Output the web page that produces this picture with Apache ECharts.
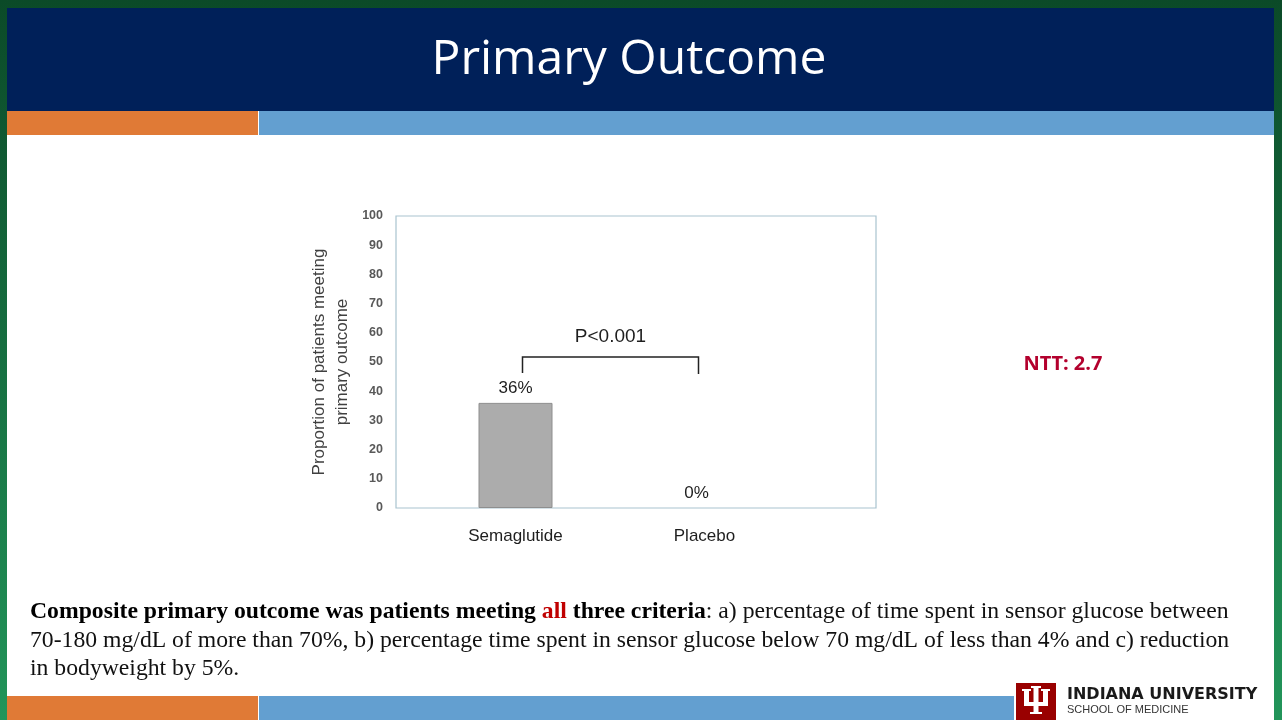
<!DOCTYPE html>
<html>
<head>
<meta charset="utf-8">
<script src="https://cdn.jsdelivr.net/npm/echarts@6/dist/echarts.min.js"></script>
<style>
  html, body { margin: 0; padding: 0; background: #0d5a32; }
  #slide { width: 1282px; height: 720px; }
</style>
</head>
<body>
<div id="slide"></div>
<script>
// data
const categories = ["Semaglutide", "Placebo"]
const values = [36, 0]
const yTicks = [0, 10, 20, 30, 40, 50, 60, 70, 80, 90, 100]
const bracket = [[0, 1, 51.7, 46.2]]   // from cat, to cat, top value, foot value
const pValue = "P<0.001"
const nttText = "NTT: 2.7"

const slideChart = echarts.init(document.getElementById("slide"))

const textFont = "Liberation Sans"
const serif = "Liberation Serif"

let option = {
    animation: false,
    backgroundColor: {
        type: "linear", x: 0, y: 0, x2: 0, y2: 1,
        colorStops: [{ offset: 0, color: "#0b4a28" }, { offset: 1, color: "#22955a" }]
    },
    grid: [
        // frame grid (y axis + border)
        { left: 396, right: 406, top: 216, bottom: 212, show: true, borderColor: "#a9c3cf", borderWidth: 1.2, backgroundColor: "transparent" },
        // bar grid
        { left: 421, right: 483, top: 216, bottom: 212 }
    ],
    xAxis: [
        { gridIndex: 0, type: "value", min: 0, max: 1, show: false },
        {
            gridIndex: 1,
            type: "category",
            data: categories,
            axisLine: { show: false },
            axisTick: { show: false },
            axisLabel: { margin: 20, fontSize: 17, color: "#1e1e1e", fontFamily: textFont }
        }
    ],
    yAxis: [
        {
            gridIndex: 0,
            type: "value",
            min: 0,
            max: 100,
            interval: 10,
            axisLine: { show: false },
            axisTick: { show: false },
            splitLine: { show: false },
            axisLabel: {
                margin: 13, fontSize: 12.5, fontWeight: "bold", color: "#595959", fontFamily: textFont,
                formatter: (v) => yTicks.includes(v) ? String(v) : ""
            },
            name: "Proportion of patients meeting\nprimary outcome",
            nameLocation: "middle",
            nameRotate: 90,
            nameGap: 42,
            nameTextStyle: { fontSize: 17, color: "#404040", fontFamily: textFont, lineHeight: 23 }
        },
        { gridIndex: 1, type: "value", min: 0, max: 100, show: false }
    ],
    series: [
        {
            type: "bar",
            xAxisIndex: 1,
            yAxisIndex: 1,
            data: values.map((v, i) => i === 1 ? { value: v, itemStyle: { borderWidth: 0 }, label: { offset: [-8, 0] } } : v),
            barWidth: 74,
            itemStyle: { color: "#acacac", borderColor: "#8e8e8e", borderWidth: 1 },
            label: {
                show: true,
                position: "top",
                distance: 6,
                formatter: "{c}%",
                fontSize: 17,
                color: "#1e1e1e",
                fontFamily: textFont
            }
        },
        {
            type: "custom",
            xAxisIndex: 1,
            yAxisIndex: 1,
            data: bracket,
            renderItem: function (params, api) {
                const a = api.coord([api.value(0), api.value(2)])
                const b = api.coord([api.value(1), api.value(2)])
                const footA = api.coord([api.value(0), api.value(3)])
                const x1 = a[0] + 7, x2 = b[0] - 6
                const lineStyle = { stroke: "#222", lineWidth: 1.5, fill: null }
                return {
                    type: "group",
                    children: [
                        { type: "polyline", shape: { points: [[x1, footA[1]], [x1, a[1]], [x2, a[1]], [x2, footA[1] + 1]] }, style: lineStyle },
                        {
                            type: "text",
                            x: (x1 + x2) / 2,
                            y: a[1] - 20,
                            style: { text: pValue, fill: "#1e1e1e", font: `19px ${textFont}`, align: "center", verticalAlign: "middle" }
                        }
                    ]
                }
            }
        }
    ],
    graphic: [
        // slide canvas
        { type: "rect", shape: { x: 7, y: 8, width: 1267, height: 712 }, style: { fill: "#ffffff" }, z: -10 },
        { type: "rect", shape: { x: 7, y: 8, width: 1267, height: 103 }, style: { fill: "#002059" }, z: -9 },
        { type: "rect", shape: { x: 7, y: 111, width: 251, height: 24 }, style: { fill: "#e07a36" }, z: -9 },
        { type: "rect", shape: { x: 259, y: 111, width: 1015, height: 24 }, style: { fill: "#639fd0" }, z: -9 },
        { type: "rect", shape: { x: 7, y: 696, width: 251, height: 24 }, style: { fill: "#e07a36" }, z: -9 },
        { type: "rect", shape: { x: 259, y: 696, width: 755, height: 24 }, style: { fill: "#639fd0" }, z: -9 },
        {
            type: "text", x: 629, y: 60,
            style: { text: "Primary Outcome", fill: "#ffffff", font: "48px 'Open Sans'", align: "center", verticalAlign: "middle" }
        },
        {
            type: "text", x: 1063, y: 364,
            style: { text: nttText, fill: "#b3002d", font: "bold 20px 'Open Sans'", align: "center", verticalAlign: "middle" }
        },
        {
            type: "text", x: 30, y: 598,
            style: {
                text: "{b|Composite primary outcome was patients meeting }{r|all}{b| three criteria}: a) percentage of time spent in sensor glucose between\n" +
                    "70-180 mg/dL of more than 70%, b) percentage time spent in sensor glucose below 70 mg/dL of less than 4% and c) reduction\n" +
                    "in bodyweight by 5%.",
                font: `23.7px ${serif}`,
                fill: "#111",
                lineHeight: 28.5,
                rich: {
                    b: { fontWeight: "bold", fontSize: 23.7, fontFamily: serif, fill: "#000", lineHeight: 28.5 },
                    r: { fontWeight: "bold", fontSize: 23.7, fontFamily: serif, fill: "#c00000", lineHeight: 28.5 }
                }
            }
        },
        // IU logo
        { type: "rect", shape: { x: 1016, y: 683, width: 40, height: 37 }, style: { fill: "#990000" } },
        {
            type: "group", x: 1036, y: 701,
            children: [
                { type: "rect", shape: { x: -12, y: -11, width: 5, height: 14 }, style: { fill: "#fff" } },
                { type: "rect", shape: { x: 7, y: -11, width: 5, height: 14 }, style: { fill: "#fff" } },
                { type: "rect", shape: { x: -2.5, y: -14, width: 5, height: 26 }, style: { fill: "#fff" } },
                { type: "rect", shape: { x: -12, y: 1, width: 24, height: 4 }, style: { fill: "#fff" } },
                { type: "rect", shape: { x: -14, y: -12, width: 9, height: 2 }, style: { fill: "#fff" } },
                { type: "rect", shape: { x: 5, y: -12, width: 9, height: 2 }, style: { fill: "#fff" } },
                { type: "rect", shape: { x: -5, y: -15, width: 10, height: 2 }, style: { fill: "#fff" } },
                { type: "rect", shape: { x: -6, y: 11, width: 12, height: 2 }, style: { fill: "#fff" } }
            ]
        },
        {
            type: "text", x: 1067, y: 695,
            style: { text: "INDIANA UNIVERSITY", fill: "#1a1a1a", font: "bold 16px 'DejaVu Sans'", verticalAlign: "middle" }
        },
        {
            type: "text", x: 1067, y: 710,
            style: { text: "SCHOOL OF MEDICINE", fill: "#333", font: `11px ${textFont}`, verticalAlign: "middle" }
        }
    ]
}

option && slideChart.setOption(option)
</script>
</body>
</html>
